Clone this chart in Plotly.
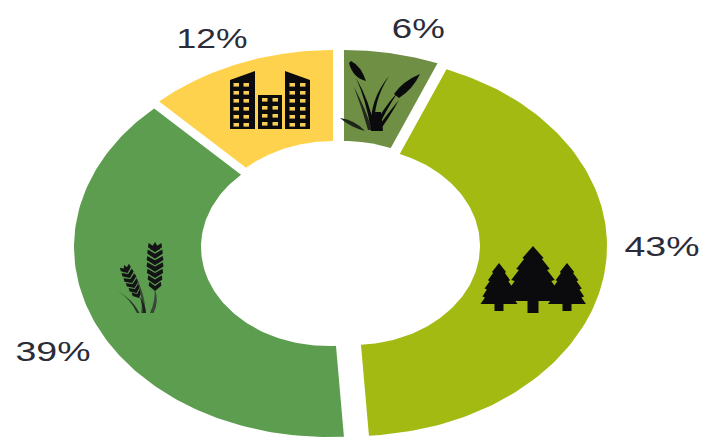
import numpy as np
import plotly.graph_objects as go

categories = ["Wetland", "Forest", "Cropland", "Urban"]
shares = [6, 43, 39, 12]
share_labels = ["6%", "43%", "39%", "12%"]
colors = ["#6F8F45", "#A2BA12", "#5C9D4F", "#FFD24D"]

# drawing geometry (pixels of the 708x437 canvas; the donut is elliptical)
WIDTH, HEIGHT = 708, 437
APEX = [(344, 240), (353, 246), (328, 247), (333, 240)]
RX, RY, IRX, IRY = 254, 190, 127, 99
LABEL_POS = [(418, 28), (662, 246), (53, 351), (212, 38)]
INK = "#0b0b0d"

fig = go.Figure()
start = 0.0
total = sum(shares)
for cat, val, col, (ax, ay) in zip(categories, shares, colors, APEX):
    end = start + val / total * 2 * np.pi
    t = np.linspace(start, end, 120)
    xo = ax + RX * np.sin(t)
    yo = ay - RY * np.cos(t)
    xi = ax + IRX * np.sin(t[::-1])
    yi = ay - IRY * np.cos(t[::-1])
    fig.add_trace(go.Scatter(
        x=np.r_[xo, xi, xo[0]], y=np.r_[yo, yi, yo[0]],
        mode="lines", fill="toself", fillcolor=col, line=dict(width=0),
        name=cat, hoverinfo="name", showlegend=False))
    start = end

for txt, (x, y) in zip(share_labels, LABEL_POS):
    fig.add_annotation(x=x, y=y, text=txt, showarrow=False,
                       font=dict(family="Liberation Sans", size=28, color="#2b2c38"),
                       xanchor="center", yanchor="middle")

shapes = []
def add(path, fill=INK):
    shapes.append(dict(type="path", path=path, fillcolor=fill, line=dict(width=0),
                       xref="x", yref="y", layer="above"))

def rect(x0, y0, x1, y1):
    return f"M{x0},{y0} L{x1},{y0} L{x1},{y1} L{x0},{y1} Z"

# buildings
for pts in ([(230, 80), (255, 71), (255, 129), (230, 129)],
            [(258, 95), (282, 95), (282, 129), (258, 129)],
            [(285, 71), (310, 80), (310, 129), (285, 129)]):
    add("M" + " L".join(f"{x},{y}" for x, y in pts) + " Z")
WIN = "#F6CE55"
for cols, rows in (((233.5, 243.5), range(83, 128, 8)),
                   ((262, 272.5), range(98, 128, 8)),
                   ((289.5, 300), range(83, 128, 8))):
    for cx in cols:
        for ry_ in rows:
            add(rect(cx, ry_, cx + 5.5, ry_ + 3.6), WIN)

# trees
def tree(cx, top, half, base, trunk_bottom, trunk_half):
    h = base - top
    pts_r = []
    tiers = [(0.22, 0.38), (0.42, 0.60), (0.62, 0.78), (0.82, 0.90), (1.0, 1.0)]
    for i, (fy, fw) in enumerate(tiers):
        y = top + h * fy
        w = half * fw
        pts_r.append((cx + w, y))
        if i < len(tiers) - 1:
            pts_r.append((cx + w * 0.84, y + 1))
    path = f"M{cx},{top} " + " ".join(f"L{x:.1f},{y:.1f}" for x, y in pts_r)
    path += f" L{cx+trunk_half},{base} L{cx+trunk_half},{trunk_bottom} L{cx-trunk_half},{trunk_bottom} L{cx-trunk_half},{base} "
    path += " ".join(f"L{2*cx-x:.1f},{y:.1f}" for x, y in reversed(pts_r)) + " Z"
    add(path)

tree(533, 246, 28, 301, 313, 5.5)
tree(499, 263, 18.5, 304, 311, 4.5)
tree(567, 263, 19, 304, 311, 4.5)

# wheat: an ear is a stack of chevrons, widest in the middle
def ear(x0, y0, x1, y1, n, w, color="#141417"):
    dx, dy = x1 - x0, y1 - y0
    L = np.hypot(dx, dy)
    ux, uy = dx / L, dy / L
    px, py = -uy, ux
    pitch = L / (n + 0.6)
    def P(along, side):
        return f"{x0 + ux*along + px*side:.1f},{y0 + uy*along + py*side:.1f}"
    add(f"M{P(0, 0)} L{P(pitch*1.2, w*0.55)} L{P(pitch*1.2, -w*0.55)} Z", color)
    for i in range(n):
        s = pitch * (i + 1.6)
        wi = w * (0.72 + 0.28 * np.sin(np.pi * (i + 0.8) / n))
        add(f"M{P(s, 0)} L{P(s - pitch*0.8, wi)} L{P(s - pitch*1.45, wi*0.92)} "
            f"L{P(s - pitch*0.78, 0)} L{P(s - pitch*1.45, -wi*0.92)} L{P(s - pitch*0.8, -wi)} Z", color)

def blade(x0, y0, cx, cy, x1, y1, w, color=INK):
    add(f"M{x0},{y0} Q{cx},{cy} {x1},{y1} Q{cx+w},{cy+w*0.4} {x0+w},{y0} Z", color)

ear(155, 242, 155, 291, 7, 8.5)
ear(124, 265, 139, 298, 6, 6.5)
blade(150, 313, 156, 300, 154.5, 288, 3.5, "#3a443a")
blade(141, 313, 144, 300, 135, 274, 3.5, "#3a4a36")
blade(137, 313, 130, 298, 117, 291, 2.5, "#25352a")
blade(143, 313, 143, 304, 139, 296, 3, "#1d201d")

# reeds
blade(371, 130, 366, 100, 356, 78, 4)
blade(371, 130, 369, 100, 389, 76, 3.5)
blade(373, 130, 381, 110, 398, 92, 4)
blade(376, 130, 384, 118, 399, 100, 4)
blade(368, 130, 362, 108, 354, 87, 4, "#24261f")
add("M351,61 Q361,66 366,81 Q353,78 349,63 Z")
add("M394,94 Q403,81 420,74 Q413,89 399,98 Z")
add("M372,112 L381,112 L383,131 L371,131 Z")
add("M340,118 Q355,120 365,131 Q350,127 340,118 Z", "#1d2419")

fig.update_layout(
    width=WIDTH, height=HEIGHT, autosize=False,
    margin=dict(l=0, r=0, t=0, b=0),
    paper_bgcolor="white", plot_bgcolor="white",
    showlegend=False, shapes=shapes,
    xaxis=dict(range=[0, WIDTH], visible=False, fixedrange=True),
    yaxis=dict(range=[HEIGHT, 0], visible=False, fixedrange=True),
)

# remove the page margin; widen the labels as in the reference, which is stretched sideways
post = """
document.body.style.margin = '0';
var w = {'6%': 53, '12%': 71, '43%': 75, '39%': 75};
document.querySelectorAll('.annotation-text').forEach(function (t) {
  var k = t.textContent.trim();
  if (w[k]) { t.setAttribute('textLength', w[k]); t.setAttribute('lengthAdjust', 'spacingAndGlyphs'); }
});
"""
fig.write_html("out.html", config=dict(displayModeBar=False), post_script=post)
